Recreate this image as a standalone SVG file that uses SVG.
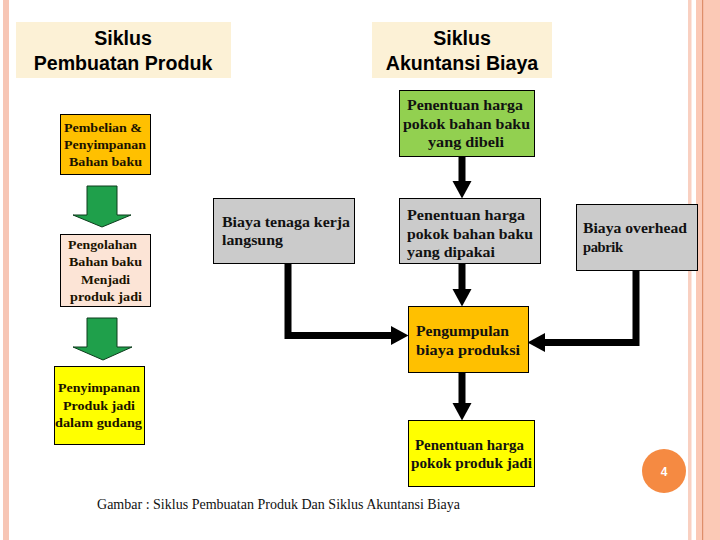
<svg xmlns="http://www.w3.org/2000/svg" width="720" height="540" viewBox="0 0 720 540">
<style>
.title{font-family:"Liberation Sans",Arial,sans-serif;font-weight:bold;font-size:19.6px;fill:#000;text-anchor:middle}
.tbox{fill:#FCF1D6}
.box{stroke:#000;stroke-width:1}
.t{font-family:"Liberation Serif","Times New Roman",serif;font-weight:bold;font-size:13.5px;fill:#1a1200}
.tr{font-family:"Liberation Serif","Times New Roman",serif;font-weight:bold;font-size:14.5px;fill:#111}
.cap{font-family:"Liberation Serif","Times New Roman",serif;font-size:14px;fill:#111}
.conn{fill:none;stroke:#000;stroke-width:7;stroke-linejoin:miter}
.blk{fill:#1FA04B;stroke:#0c3d1c;stroke-width:1}
</style>
<defs>
<marker id="ah" markerUnits="userSpaceOnUse" markerWidth="18" markerHeight="20" refX="0" refY="10" orient="auto" viewBox="0 0 18 20">
<path d="M0,0.5 L17.5,10 L0,19.5 Z" fill="#000"/>
</marker>
</defs>
<rect width="720" height="540" fill="#fff"/>
<!-- side decorations -->
<rect x="3" y="0" width="6" height="540" fill="#F7C6B5"/>
<rect x="688" y="0" width="3.5" height="540" fill="#F9D0C1"/>
<rect x="696" y="0" width="24" height="540" fill="#FBC9B6"/>
<rect x="702" y="0" width="1.2" height="540" fill="#DE8E6A"/>

<g id="title-produk">
<rect class="tbox" x="16" y="22" width="215" height="56"/>
<text class="title" x="123" y="45">Siklus</text>
<text class="title" x="123" y="70">Pembuatan Produk</text>
</g>
<g id="title-biaya">
<rect class="tbox" x="372" y="22" width="180" height="56"/>
<text class="title" x="462" y="45">Siklus</text>
<text class="title" x="462" y="70">Akuntansi Biaya</text>
</g>

<g id="pembelian">
<rect class="box" x="60.5" y="114.5" width="90" height="60" fill="#FFC000"/>
<text class="t" x="64" y="132" textLength="78" lengthAdjust="spacingAndGlyphs">Pembelian &amp;</text>
<text class="t" x="64" y="149" textLength="82" lengthAdjust="spacingAndGlyphs">Penyimpanan</text>
<text class="t" x="69" y="166" textLength="73" lengthAdjust="spacingAndGlyphs">Bahan baku</text>
</g>

<g id="arrow-block-1">
<path class="blk" d="M87,186 H117 V215 H131 L102,227 L73,215 H87 Z"/>
</g>

<g id="pengolahan">
<rect class="box" x="60.5" y="234.5" width="90" height="72" fill="#FCE4D6"/>
<text class="t" x="68" y="249" textLength="69" lengthAdjust="spacingAndGlyphs">Pengolahan</text>
<text class="t" x="69" y="266" textLength="73" lengthAdjust="spacingAndGlyphs">Bahan baku</text>
<text class="t" x="81" y="284" textLength="49" lengthAdjust="spacingAndGlyphs">Menjadi</text>
<text class="t" x="70" y="301" textLength="72" lengthAdjust="spacingAndGlyphs">produk jadi</text>
</g>

<g id="arrow-block-2">
<path class="blk" d="M87,318 H117 V347 H132 L103,360 L73,347 H87 Z"/>
</g>

<g id="penyimpanan">
<rect class="box" x="54.5" y="366.5" width="90" height="78" fill="#FFFF00"/>
<text class="t" x="58" y="392" textLength="82" lengthAdjust="spacingAndGlyphs">Penyimpanan</text>
<text class="t" x="63" y="410" textLength="72" lengthAdjust="spacingAndGlyphs">Produk jadi</text>
<text class="t" x="55" y="427" textLength="87" lengthAdjust="spacingAndGlyphs">dalam gudang</text>
</g>

<g id="connectors">
<path class="conn" d="M462,156 V181" marker-end="url(#ah)"/>
<path class="conn" d="M288,263 V335.5 H391" marker-end="url(#ah)"/>
<path class="conn" d="M462,263 V289" marker-end="url(#ah)"/>
<path class="conn" d="M636,271 V342.5 H545" marker-end="url(#ah)"/>
<path class="conn" d="M462,373 V403" marker-end="url(#ah)"/>
</g>

<g id="bahan-dibeli">
<rect class="box" x="399.5" y="90.5" width="135" height="66" fill="#92D050"/>
<text class="tr" x="407" y="110" textLength="116" lengthAdjust="spacingAndGlyphs">Penentuan harga</text>
<text class="tr" x="403" y="129" textLength="127" lengthAdjust="spacingAndGlyphs">pokok bahan baku</text>
<text class="tr" x="428" y="147" textLength="76" lengthAdjust="spacingAndGlyphs">yang dibeli</text>
</g>

<g id="tenaga-kerja">
<rect class="box" x="213.5" y="198.5" width="141" height="65" fill="#CBCBCB"/>
<text class="tr" x="222" y="227" textLength="128" lengthAdjust="spacingAndGlyphs">Biaya tenaga kerja</text>
<text class="tr" x="222" y="245" textLength="61" lengthAdjust="spacingAndGlyphs">langsung</text>
</g>

<g id="bahan-dipakai">
<rect class="box" x="399.5" y="198.5" width="141" height="65" fill="#CBCBCB"/>
<text class="tr" x="407" y="220" textLength="118" lengthAdjust="spacingAndGlyphs">Penentuan harga</text>
<text class="tr" x="407" y="239" textLength="126" lengthAdjust="spacingAndGlyphs">pokok bahan baku</text>
<text class="tr" x="407" y="257" textLength="88" lengthAdjust="spacingAndGlyphs">yang dipakai</text>
</g>

<g id="overhead">
<rect class="box" x="576.5" y="204.5" width="121" height="66" fill="#CBCBCB"/>
<text class="tr" x="583" y="233" textLength="104" lengthAdjust="spacingAndGlyphs">Biaya overhead</text>
<text class="tr" x="583" y="252" textLength="40" lengthAdjust="spacing">pabrik</text>
</g>

<g id="pengumpulan">
<rect class="box" x="408.5" y="306.5" width="120" height="66" fill="#FFC000"/>
<text class="tr" x="416" y="336" textLength="93" lengthAdjust="spacingAndGlyphs">Pengumpulan</text>
<text class="tr" x="416" y="355" textLength="104" lengthAdjust="spacingAndGlyphs">biaya produksi</text>
</g>

<g id="produk-jadi">
<rect class="box" x="408.5" y="420.5" width="126" height="66" fill="#FFFF00"/>
<text class="tr" x="415" y="450" textLength="109" lengthAdjust="spacingAndGlyphs">Penentuan harga</text>
<text class="tr" x="411" y="468" textLength="121" lengthAdjust="spacingAndGlyphs">pokok produk jadi</text>
</g>

<text class="cap" x="97" y="509" textLength="363" lengthAdjust="spacingAndGlyphs">Gambar : Siklus Pembuatan Produk Dan Siklus Akuntansi Biaya</text>

<g id="page-number">
<circle cx="664" cy="471" r="22" fill="#F58A42"/>
<text x="664" y="475.5" text-anchor="middle" font-family="Liberation Sans,Arial,sans-serif" font-weight="bold" font-size="12" fill="#fff">4</text>
</g>
</svg>
